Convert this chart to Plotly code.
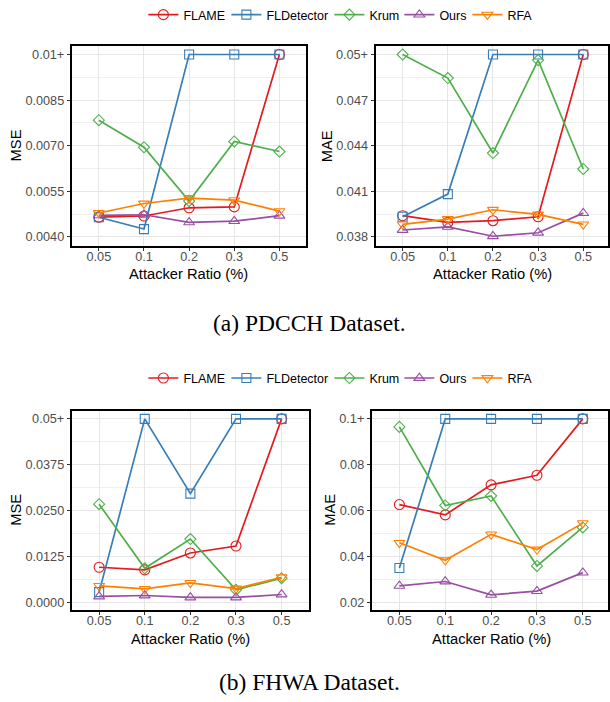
import plotly.graph_objects as go

W, H = 610, 702

ratios = ["0.05", "0.1", "0.2", "0.3", "0.5"]
methods = ["FLAME", "FLDetector", "Krum", "Ours", "RFA"]

# PDCCH dataset
pdcch_mse_flame = [0.00465, 0.00469, 0.00496, 0.00499, 0.0100]
pdcch_mse_fldet = [0.00465, 0.00426, 0.0100, 0.0100, 0.0100]
pdcch_mse_krum = [0.00784, 0.00695, 0.00518, 0.00714, 0.00681]
pdcch_mse_ours = [0.00471, 0.00473, 0.00448, 0.00452, 0.00470]
pdcch_mse_rfa = [0.00479, 0.00510, 0.00528, 0.00521, 0.00485]

pdcch_mae_flame = [0.03940, 0.03896, 0.03907, 0.03933, 0.0500]
pdcch_mae_fldet = [0.03933, 0.04082, 0.0500, 0.0500, 0.0500]
pdcch_mae_krum = [0.0500, 0.04845, 0.04352, 0.04963, 0.04247]
pdcch_mae_ours = [0.03846, 0.03867, 0.03805, 0.03828, 0.03957]
pdcch_mae_rfa = [0.03883, 0.03918, 0.03979, 0.03949, 0.03883]

# FHWA dataset
fhwa_mse_flame = [0.00951, 0.00879, 0.01341, 0.01531, 0.0500]
fhwa_mse_fldet = [0.00272, 0.0500, 0.02962, 0.0500, 0.0500]
fhwa_mse_krum = [0.02672, 0.00924, 0.01721, 0.00335, 0.00652]
fhwa_mse_ours = [0.00154, 0.00181, 0.00127, 0.00127, 0.00208]
fhwa_mse_rfa = [0.00444, 0.00362, 0.00525, 0.00371, 0.00679]

fhwa_mae_flame = [0.0626, 0.0581, 0.0712, 0.0754, 0.1000]
fhwa_mae_fldet = [0.0349, 0.1000, 0.1000, 0.1000, 0.1000]
fhwa_mae_krum = [0.0965, 0.0622, 0.0664, 0.0358, 0.0526]
fhwa_mae_ours = [0.0271, 0.0290, 0.0232, 0.0248, 0.0329]
fhwa_mae_rfa = [0.0459, 0.0383, 0.0496, 0.0430, 0.0545]

# tick labels
pdcch_mse_ticks = [0.0040, 0.0055, 0.0070, 0.0085, 0.0100]
pdcch_mse_labels = ["0.0040", "0.0055", "0.0070", "0.0085", "0.01+"]
pdcch_mae_ticks = [0.038, 0.041, 0.044, 0.047, 0.050]
pdcch_mae_labels = ["0.038", "0.041", "0.044", "0.047", "0.05+"]
fhwa_mse_ticks = [0.0, 0.0125, 0.025, 0.0375, 0.05]
fhwa_mse_labels = ["0.0000", "0.0125", "0.0250", "0.0375", "0.05+"]
fhwa_mae_ticks = [0.02, 0.04, 0.06, 0.08, 0.10]
fhwa_mae_labels = ["0.02", "0.04", "0.06", "0.08", "0.1+"]

colors = ["#E41A1C", "#377EB8", "#4DAF4A", "#984EA3", "#FF7F00"]
symbols = ["circle-open", "square-open", "diamond-open", "triangle-up-open", "triangle-down-open"]
msizes = [10, 9, 8.5, 9.5, 9.5]
legend_widths = [38, 58, 25, 23, 26]

panels = [
    dict(data=[pdcch_mse_flame, pdcch_mse_fldet, pdcch_mse_krum, pdcch_mse_ours, pdcch_mse_rfa],
         ticks=pdcch_mse_ticks, labels=pdcch_mse_labels, title="MSE",
         px_x=(72.0, 307.5), px_y=(42.7, 244.0), yrange=(0.003705, 0.010295), xrange=(-0.6, 4.6),
         legend="legend", title_x=15.7, xt_y=271.7, xt_x=189.5),
    dict(data=[pdcch_mae_flame, pdcch_mae_fldet, pdcch_mae_krum, pdcch_mae_ours, pdcch_mae_rfa],
         ticks=pdcch_mae_ticks, labels=pdcch_mae_labels, title="MAE",
         px_x=(376.8, 610.0), px_y=(42.7, 244.0), yrange=(0.03741, 0.05059), xrange=(-0.6, 4.548),
         legend="legend", title_x=327.5, xt_y=271.7, xt_x=494.3),
    dict(data=[fhwa_mse_flame, fhwa_mse_fldet, fhwa_mse_krum, fhwa_mse_ours, fhwa_mse_rfa],
         ticks=fhwa_mse_ticks, labels=fhwa_mse_labels, title="MSE",
         px_x=(72.0, 310.0), px_y=(409.3, 609.3), yrange=(-0.00207, 0.05228), xrange=(-0.6, 4.6),
         legend="legend2", title_x=15.7, xt_y=638.3, xt_x=190.8),
    dict(data=[fhwa_mae_flame, fhwa_mae_fldet, fhwa_mae_krum, fhwa_mae_ours, fhwa_mae_rfa],
         ticks=fhwa_mae_ticks, labels=fhwa_mae_labels, title="MAE",
         px_x=(373.1, 610.0), px_y=(409.3, 609.3), yrange=(0.0167, 0.10365), xrange=(-0.6, 4.55),
         legend="legend2", title_x=330.8, xt_y=638.3, xt_x=493.0),
]

fig = go.Figure()
annotations = []
layout = {}

FONT = "Liberation Sans, Arial, sans-serif"
TICKCOL = "#4D4D4D"
GRID = "#E6E6E6"

for i, p in enumerate(panels):
    n = "" if i == 0 else str(i + 1)
    xa, ya = "x" + n, "y" + n
    for j, m in enumerate(methods):
        fig.add_trace(go.Scatter(
            x=ratios, y=p["data"][j], mode="lines+markers", name=m,
            xaxis=xa, yaxis=ya,
            line=dict(color=colors[j], width=1.7),
            marker=dict(symbol=symbols[j], size=msizes[j], color=colors[j], line=dict(width=1.1, color=colors[j])),
            legend=p["legend"], showlegend=(i in (0, 2)), legendwidth=legend_widths[j],
        ))
    ticks = p["ticks"]
    minor_vals = [(ticks[k] + ticks[k + 1]) / 2 for k in range(len(ticks) - 1)]
    layout["xaxis" + n] = dict(
        domain=[p["px_x"][0] / W, p["px_x"][1] / W], anchor=ya,
        type="category", categoryorder="array", categoryarray=ratios,
        range=list(p["xrange"]),
        showline=True, mirror=True, linecolor="black", linewidth=2,
        showgrid=True, gridcolor=GRID, gridwidth=1.2,
        ticks="outside", ticklen=3, tickcolor="#333333", tickwidth=1,
        ticklabelstandoff=-5,
        tickfont=dict(family=FONT, size=12.7, color=TICKCOL),
        zeroline=False,
    )
    layout["yaxis" + n] = dict(
        domain=[1 - p["px_y"][1] / H, 1 - p["px_y"][0] / H], anchor=xa,
        range=list(p["yrange"]),
        tickvals=ticks, ticktext=p["labels"],
        showline=True, mirror=True, linecolor="black", linewidth=2,
        showgrid=True, gridcolor=GRID, gridwidth=1.2,
        minor=dict(tickvals=minor_vals, showgrid=True, gridcolor="#F0F0F0", gridwidth=0.8, ticks=""),
        ticks="outside", ticklen=3, tickcolor="#333333", tickwidth=1,
        tickfont=dict(family=FONT, size=12.7, color=TICKCOL),
        zeroline=False,
    )
    yc = (p["px_y"][0] + p["px_y"][1]) / 2
    annotations.append(dict(text=p["title"], x=p["title_x"] / W, y=1 - yc / H, xref="paper", yref="paper",
                            showarrow=False, textangle=-90, xanchor="center", yanchor="middle",
                            font=dict(family=FONT, size=14.7, color="black")))
    annotations.append(dict(text="Attacker Ratio (%)", x=p["xt_x"] / W, y=1 - p["xt_y"] / H,
                            xref="paper", yref="paper", showarrow=False, xanchor="center", yanchor="middle",
                            font=dict(family=FONT, size=14.7, color="black")))

SERIF = "Liberation Serif, Times New Roman, serif"
annotations.append(dict(text="(a) PDCCH Dataset.", x=310.5 / W, y=1 - 321.7 / H, xref="paper", yref="paper",
                        showarrow=False, xanchor="center", yanchor="middle",
                        font=dict(family=SERIF, size=23.5, color="black")))
annotations.append(dict(text="(b) FHWA Dataset.", x=311 / W, y=1 - 681.7 / H, xref="paper", yref="paper",
                        showarrow=False, xanchor="center", yanchor="middle",
                        font=dict(family=SERIF, size=23.5, color="black")))

legend_style = dict(orientation="h", xanchor="center", yanchor="middle", x=342 / W,
                    bgcolor="rgba(0,0,0,0)", font=dict(family=FONT, size=12.5, color="black"),
                    itemwidth=30, tracegroupgap=0)

fig.update_layout(
    width=W, height=H,
    margin=dict(l=0, r=0, t=0, b=0),
    paper_bgcolor="white", plot_bgcolor="white",
    showlegend=True,
    legend=dict(legend_style, y=1 - 12 / H),
    legend2=dict(legend_style, y=1 - 377 / H),
    annotations=annotations,
    **layout,
)

fig.write_html("out.html")
